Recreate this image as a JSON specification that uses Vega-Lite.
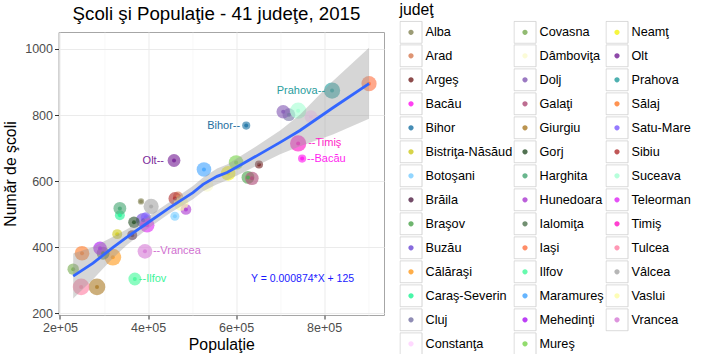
{
 "$schema": "https://vega.github.io/schema/vega-lite/v6.json",
 "width": 325.5,
 "height": 283,
 "autosize": {"type": "none"},
 "padding": {"left": 58.5, "top": 32, "right": 319, "bottom": 39},
 "background": "white",
 "title": {"text": "Şcoli şi Populaţie - 41 judeţe, 2015", "fontSize": 18.7, "fontWeight": "normal", "font": "Liberation Sans", "color": "black", "anchor": "middle", "frame": "group", "baseline": "alphabetic", "offset": -35.5, "dx": -4.75},
 "datasets": {
  "jud": [
   {"judet": "Alba", "pop": 384000, "scoli": 538, "pondere": 1.2},
   {"judet": "Arad", "pop": 468000, "scoli": 553, "pondere": 3},
   {"judet": "Argeş", "pop": 652000, "scoli": 650, "pondere": 2},
   {"judet": "Bacău", "pop": 750000, "scoli": 668, "pondere": 2, "eticheta": "--Bacău"},
   {"judet": "Bihor", "pop": 623000, "scoli": 768, "pondere": 2, "eticheta": "Bihor--"},
   {"judet": "Bistriţa-Năsăud", "pop": 330000, "scoli": 439, "pondere": 3},
   {"judet": "Botoşani", "pop": 461000, "scoli": 493, "pondere": 2.5},
   {"judet": "Brăila", "pop": 364000, "scoli": 436, "pondere": 3},
   {"judet": "Braşov", "pop": 627000, "scoli": 611, "pondere": 5},
   {"judet": "Buzău", "pop": 389000, "scoli": 481, "pondere": 6.5},
   {"judet": "Călăraşi", "pop": 320000, "scoli": 369, "pondere": 8.5},
   {"judet": "Caraş-Severin", "pop": 336000, "scoli": 496, "pondere": 3},
   {"judet": "Cluj", "pop": 720000, "scoli": 801, "pondere": 5},
   {"judet": "Constanţa", "pop": 770000, "scoli": 795, "pondere": 5},
   {"judet": "Covasna", "pop": 230000, "scoli": 333, "pondere": 4},
   {"judet": "Dâmboviţa", "pop": 534000, "scoli": 587, "pondere": 5},
   {"judet": "Dolj", "pop": 707000, "scoli": 810, "pondere": 5.5},
   {"judet": "Galaţi", "pop": 636000, "scoli": 608, "pondere": 5.5},
   {"judet": "Giurgiu", "pop": 284000, "scoli": 279, "pondere": 8.5},
   {"judet": "Gorj", "pop": 368000, "scoli": 475, "pondere": 4},
   {"judet": "Harghita", "pop": 336000, "scoli": 517, "pondere": 5},
   {"judet": "Hunedoara", "pop": 486000, "scoli": 514, "pondere": 3.5},
   {"judet": "Ialomiţa", "pop": 298000, "scoli": 381, "pondere": 5},
   {"judet": "Iaşi", "pop": 902000, "scoli": 895, "pondere": 7},
   {"judet": "Ilfov", "pop": 370000, "scoli": 303, "pondere": 5, "eticheta": "--Ilfov"},
   {"judet": "Maramureş", "pop": 527000, "scoli": 635, "pondere": 6.5},
   {"judet": "Mehedinţi", "pop": 291000, "scoli": 396, "pondere": 5.5},
   {"judet": "Mureş", "pop": 600000, "scoli": 656, "pondere": 6.5},
   {"judet": "Neamţ", "pop": 582000, "scoli": 623, "pondere": 6.5},
   {"judet": "Olt", "pop": 459000, "scoli": 662, "pondere": 5, "eticheta": "Olt--"},
   {"judet": "Prahova", "pop": 818000, "scoli": 874, "pondere": 8, "eticheta": "Prahova--"},
   {"judet": "Sălaj", "pop": 250000, "scoli": 381, "pondere": 6.5},
   {"judet": "Satu-Mare", "pop": 395000, "scoli": 490, "pondere": 3},
   {"judet": "Sibiu", "pop": 461000, "scoli": 547, "pondere": 5},
   {"judet": "Suceava", "pop": 741000, "scoli": 813, "pondere": 8},
   {"judet": "Teleorman", "pop": 398000, "scoli": 466, "pondere": 6.5},
   {"judet": "Timiş", "pop": 741000, "scoli": 714, "pondere": 8, "eticheta": "--Timiş"},
   {"judet": "Tulcea", "pop": 248000, "scoli": 279, "pondere": 8.5},
   {"judet": "Vâlcea", "pop": 407000, "scoli": 523, "pondere": 7},
   {"judet": "Vaslui", "pop": 475000, "scoli": 532, "pondere": 6.5},
   {"judet": "Vrancea", "pop": 393000, "scoli": 387, "pondere": 6.5, "eticheta": "--Vrancea"}
  ],
  "fit": [
   {"pop": 230000, "fit": 312, "lo": 244, "hi": 380},
   {"pop": 275000, "fit": 351, "lo": 302, "hi": 400},
   {"pop": 320500, "fit": 399, "lo": 367, "hi": 431},
   {"pop": 352000, "fit": 430, "lo": 406, "hi": 454},
   {"pop": 397700, "fit": 472, "lo": 454, "hi": 490},
   {"pop": 450000, "fit": 520, "lo": 503, "hi": 537},
   {"pop": 502000, "fit": 565, "lo": 545, "hi": 585},
   {"pop": 525000, "fit": 590, "lo": 569, "hi": 611},
   {"pop": 556800, "fit": 614, "lo": 590, "hi": 638},
   {"pop": 579500, "fit": 626, "lo": 602, "hi": 650},
   {"pop": 616000, "fit": 653, "lo": 626, "hi": 680},
   {"pop": 647700, "fit": 677, "lo": 647, "hi": 707},
   {"pop": 700000, "fit": 717, "lo": 681, "hi": 753},
   {"pop": 745000, "fit": 753, "lo": 705, "hi": 801},
   {"pop": 820000, "fit": 822, "lo": 741, "hi": 903},
   {"pop": 902000, "fit": 895, "lo": 789, "hi": 1004}
  ],
  "eq": [
   {"pop": 751000, "scoli": 303, "text": "Y = 0.000874*X + 125"}
  ]
 },
 "layer": [
  {
   "data": {"name": "jud"},
   "mark": {"type": "circle", "opacity": 0.65},
   "encoding": {
    "x": {"field": "pop", "type": "quantitative", "scale": {"domain": [196600, 936000], "nice": false, "zero": false},
     "axis": {"title": "Populaţie", "values": [200000, 300000, 400000, 500000, 600000, 700000, 800000, 900000],
      "labelExpr": "datum.value % 200000 == 0 ? (datum.value/100000) + 'e+05' : ''",
      "gridColor": {"condition": {"test": "datum.value % 200000 == 0", "value": "#ebebeb"}, "value": "#f4f4f4"},
      "gridWidth": {"condition": {"test": "datum.value % 200000 == 0", "value": 1}, "value": 0.6},
      "tickOpacity": {"condition": {"test": "datum.value % 200000 == 0", "value": 1}, "value": 0},
      "labelPadding": 2, "titlePadding": 4, "labelFlush": false, "labelOverlap": false}},
    "y": {"field": "scoli", "type": "quantitative", "scale": {"domain": [194, 1051.5], "nice": false, "zero": false},
     "axis": {"title": "Număr de şcoli", "values": [200, 300, 400, 500, 600, 700, 800, 900, 1000],
      "labelExpr": "datum.value % 200 == 0 ? '' + datum.value : ''",
      "gridColor": {"condition": {"test": "datum.value % 200 == 0", "value": "#ebebeb"}, "value": "#f4f4f4"},
      "gridWidth": {"condition": {"test": "datum.value % 200 == 0", "value": 1}, "value": 0.6},
      "tickOpacity": {"condition": {"test": "datum.value % 200 == 0", "value": 1}, "value": 0},
      "labelPadding": 2, "titlePadding": 6, "labelFlush": false, "labelOverlap": false}},
    "color": {"field": "judet", "type": "nominal",
     "scale": {
      "domain": ["Alba", "Arad", "Argeş", "Bacău", "Bihor", "Bistriţa-Năsăud", "Botoşani", "Brăila", "Braşov", "Buzău", "Călăraşi", "Caraş-Severin", "Cluj", "Constanţa", "Covasna", "Dâmboviţa", "Dolj", "Galaţi", "Giurgiu", "Gorj", "Harghita", "Hunedoara", "Ialomiţa", "Iaşi", "Ilfov", "Maramureş", "Mehedinţi", "Mureş", "Neamţ", "Olt", "Prahova", "Sălaj", "Satu-Mare", "Sibiu", "Suceava", "Teleorman", "Timiş", "Tulcea", "Vâlcea", "Vaslui", "Vrancea"],
      "range": ["#8b8b5e", "#d9825b", "#7a2d2d", "#ff1ff0", "#2679a8", "#d1cd2a", "#7fcfff", "#5b2d4f", "#55a855", "#7352d8", "#ffa02a", "#2af59a", "#7d7aa8", "#ffd3ff", "#7fb05a", "#fbfbd0", "#8a62b8", "#b2547e", "#b08232", "#345a34", "#4faa7a", "#b044d4", "#5a7d5a", "#ff7a4d", "#4dfaa0", "#4aa8ff", "#b11ff5", "#7fd655", "#f5f51e", "#7b2a9a", "#2fa3a3", "#ff8133", "#8364ff", "#b53a3a", "#aaffd5", "#e032f5", "#ff1fc8", "#ff86a8", "#aaaaaa", "#fdfdaa", "#d882d8"]
     },
     "legend": {"orient": "none", "legendX": 341, "legendY": -29, "direction": "vertical", "columns": 3, "symbolLimit": 0, "title": "judeţ",
      "titleFont": "Liberation Sans", "titleFontSize": 15.8, "titleFontWeight": "normal", "titleColor": "black", "titlePadding": 1.5, "titleAnchor": "start",
      "labelFont": "Liberation Sans", "labelFontSize": 12.7, "labelColor": "black", "labelOffset": 3, "labelLimit": 300,
      "symbolType": "M-1,-1L-1,-1M1,1L1,1M0.24,0A0.24,0.24,0,1,1,-0.24,0A0.24,0.24,0,1,1,0.24,0Z",
      "symbolSize": 484, "symbolStrokeWidth": 1, "symbolStrokeColor": "transparent", "symbolOpacity": 0.85, "clipHeight": 23.08, "rowPadding": 0, "columnPadding": 1, "padding": 0,
      "encode": {"symbols": {"update": {"opacity": {"value": 0.85}, "stroke": {"value": "transparent"}, "strokeWidth": {"value": 1}}}}}},
    "size": {"field": "pondere", "type": "quantitative", "scale": {"domain": [0, 10], "range": [0, 330]}, "legend": null}
   }
  },
  {
   "data": {"name": "jud"},
   "mark": {"type": "circle", "opacity": 0.9, "size": 16},
   "encoding": {
    "x": {"field": "pop", "type": "quantitative"},
    "y": {"field": "scoli", "type": "quantitative"},
    "color": {"field": "judet", "type": "nominal"}
   }
  },
  {
   "data": {"name": "fit"},
   "mark": {"type": "area", "color": "#999999", "opacity": 0.4},
   "encoding": {
    "x": {"field": "pop", "type": "quantitative"},
    "y": {"field": "lo", "type": "quantitative"},
    "y2": {"field": "hi"}
   }
  },
  {
   "data": {"name": "fit"},
   "mark": {"type": "line", "color": "#3366ff", "strokeWidth": 2.8},
   "encoding": {
    "x": {"field": "pop", "type": "quantitative"},
    "y": {"field": "fit", "type": "quantitative"}
   }
  },
  {
   "data": {"name": "jud"},
   "transform": [{"filter": "datum.judet == 'Prahova'"}],
   "mark": {"type": "text", "align": "right", "baseline": "middle", "dx": -7, "fontSize": 11, "font": "Liberation Sans", "color": "#2a9d9d"},
   "encoding": {"x": {"field": "pop", "type": "quantitative"}, "y": {"field": "scoli", "type": "quantitative"}, "text": {"field": "eticheta"}}
  },
  {
   "data": {"name": "jud"},
   "transform": [{"filter": "datum.judet == 'Bihor'"}],
   "mark": {"type": "text", "align": "right", "baseline": "middle", "dx": -6, "fontSize": 11, "font": "Liberation Sans", "color": "#1f6fa0"},
   "encoding": {"x": {"field": "pop", "type": "quantitative"}, "y": {"field": "scoli", "type": "quantitative"}, "text": {"field": "eticheta"}}
  },
  {
   "data": {"name": "jud"},
   "transform": [{"filter": "datum.judet == 'Olt'"}],
   "mark": {"type": "text", "align": "right", "baseline": "middle", "dx": -10, "fontSize": 11, "font": "Liberation Sans", "color": "#7b2a9a"},
   "encoding": {"x": {"field": "pop", "type": "quantitative"}, "y": {"field": "scoli", "type": "quantitative"}, "text": {"field": "eticheta"}}
  },
  {
   "data": {"name": "jud"},
   "transform": [{"filter": "datum.judet == 'Timiş'"}],
   "mark": {"type": "text", "align": "left", "baseline": "middle", "dx": 10, "fontSize": 11, "font": "Liberation Sans", "color": "#ff1fc8"},
   "encoding": {"x": {"field": "pop", "type": "quantitative"}, "y": {"field": "scoli", "type": "quantitative"}, "text": {"field": "eticheta"}}
  },
  {
   "data": {"name": "jud"},
   "transform": [{"filter": "datum.judet == 'Bacău'"}],
   "mark": {"type": "text", "align": "left", "baseline": "middle", "dx": 5, "fontSize": 11, "font": "Liberation Sans", "color": "#ff1ff0"},
   "encoding": {"x": {"field": "pop", "type": "quantitative"}, "y": {"field": "scoli", "type": "quantitative"}, "text": {"field": "eticheta"}}
  },
  {
   "data": {"name": "jud"},
   "transform": [{"filter": "datum.judet == 'Vrancea'"}],
   "mark": {"type": "text", "align": "left", "baseline": "middle", "dx": 8, "fontSize": 11, "font": "Liberation Sans", "color": "#d070d0"},
   "encoding": {"x": {"field": "pop", "type": "quantitative"}, "y": {"field": "scoli", "type": "quantitative"}, "text": {"field": "eticheta"}}
  },
  {
   "data": {"name": "jud"},
   "transform": [{"filter": "datum.judet == 'Ilfov'"}],
   "mark": {"type": "text", "align": "left", "baseline": "middle", "dx": 4, "fontSize": 11, "font": "Liberation Sans", "color": "#3ef59a"},
   "encoding": {"x": {"field": "pop", "type": "quantitative"}, "y": {"field": "scoli", "type": "quantitative"}, "text": {"field": "eticheta"}}
  },
  {
   "data": {"name": "eq"},
   "mark": {"type": "text", "align": "center", "baseline": "middle", "fontSize": 10.5, "font": "Liberation Sans", "color": "#1a1aff"},
   "encoding": {"x": {"field": "pop", "type": "quantitative"}, "y": {"field": "scoli", "type": "quantitative"}, "text": {"field": "text"}}
  },
  {
   "data": {"name": "jud"},
   "mark": {"type": "point", "opacity": 0},
   "encoding": {
    "x": {"field": "pop", "type": "quantitative"},
    "y": {"field": "scoli", "type": "quantitative"},
    "shape": {"field": "judet", "type": "nominal",
     "scale": {
      "domain": ["Alba", "Arad", "Argeş", "Bacău", "Bihor", "Bistriţa-Năsăud", "Botoşani", "Brăila", "Braşov", "Buzău", "Călăraşi", "Caraş-Severin", "Cluj", "Constanţa", "Covasna", "Dâmboviţa", "Dolj", "Galaţi", "Giurgiu", "Gorj", "Harghita", "Hunedoara", "Ialomiţa", "Iaşi", "Ilfov", "Maramureş", "Mehedinţi", "Mureş", "Neamţ", "Olt", "Prahova", "Sălaj", "Satu-Mare", "Sibiu", "Suceava", "Teleorman", "Timiş", "Tulcea", "Vâlcea", "Vaslui", "Vrancea"],
      "range": ["M-1,-1H1V1H-1Z"]
     },
     "legend": {"orient": "none", "legendX": 341, "legendY": -29, "direction": "vertical", "columns": 3, "symbolLimit": 0, "title": "judeţ",
      "titleFont": "Liberation Sans", "titleFontSize": 15.8, "titleFontWeight": "normal", "titleOpacity": 0, "titlePadding": 1.5, "titleAnchor": "start",
      "labelFont": "Liberation Sans", "labelFontSize": 12.7, "labelOpacity": 0, "labelOffset": 3, "labelLimit": 300,
      "symbolSize": 484, "symbolStrokeWidth": 1, "symbolStrokeColor": "#d4d4d4", "symbolFillColor": "transparent", "symbolOpacity": 1, "clipHeight": 23.08, "rowPadding": 0, "columnPadding": 1, "padding": 0,
      "encode": {"symbols": {"update": {"fill": {"value": "transparent"}, "stroke": {"value": "#d4d4d4"}, "strokeWidth": {"value": 1}, "opacity": {"value": 1}}}}}}
   }
  }
 ],
 "resolve": {"scale": {"shape": "independent"}, "legend": {"shape": "independent"}},
 "config": {
  "font": "Liberation Sans",
  "view": {"stroke": "#a6a6a6", "strokeWidth": 1},
  "axis": {"domain": false, "grid": true, "tickColor": "#333333", "tickSize": 4, "tickWidth": 1,
   "labelFont": "Liberation Sans", "labelFontSize": 12.5, "labelColor": "#4d4d4d",
   "titleFont": "Liberation Sans", "titleFontSize": 15.8, "titleFontWeight": "normal", "titleColor": "black"}
 }
}
